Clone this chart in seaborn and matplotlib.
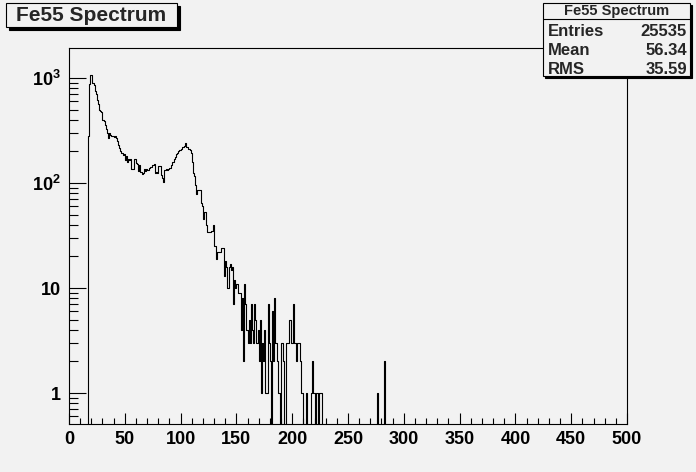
import numpy as np
import pandas as pd
import matplotlib
matplotlib.use('Agg')
import matplotlib.pyplot as plt
from matplotlib.patches import Rectangle
from matplotlib.lines import Line2D
from matplotlib.ticker import MultipleLocator, LogLocator, NullFormatter
import seaborn as sns

# --- data ---
title = 'Fe55 Spectrum'
stat_names = ['Entries', 'Mean', 'RMS']
stat_values = ['25535', '56.34', '35.59']

n_bins = 500
x_min, x_max = 0, 500
first_bin = 17
main_counts = [
    280, 870, 1060, 1060, 900, 860, 760, 700, 620, 560,   # 17-26
    500, 480, 470, 400, 390, 355, 330, 300, 270, 300,     # 27-36
    285, 283, 280, 275, 283, 270, 250, 230, 215, 200,     # 37-46
    195, 185, 188, 165, 180, 160, 168, 165, 170, 137,     # 47-56
    137, 170, 168, 155, 152, 130, 150, 128, 122, 125,     # 57-66
    135, 130, 135, 133, 134, 140, 142, 150, 150, 152,     # 67-76
    125, 128, 125, 144, 144, 120, 112, 103, 134, 133,     # 77-86
    136, 134, 135, 140, 150, 157, 160, 168, 175, 190,     # 87-96
    192, 200, 205, 210, 218, 220, 225, 240, 222, 218,     # 97-106
    210, 205, 195, 157, 125, 116, 96, 78, 86, 86,         # 107-116
    86, 65, 60, 45, 53, 53, 40, 34, 34, 34,               # 117-126
    35, 35, 40, 25, 25, 19, 22, 22, 22, 24,               # 127-136
    24, 24, 13, 18, 16, 10, 16, 17, 15, 16,               # 137-146
    7, 12, 10, 11, 9, 9, 9, 4, 8, 2,                      # 147-156
    11, 7, 4, 3, 5, 3, 7, 4, 3, 7,                        # 157-166
    5, 3, 4, 2, 5, 1,                                     # 167-172
    3, 2, 4, 1, 1, 7, 3, 2, 0, 6,                         # 173-182
    2, 8, 3, 2, 1, 1, 0, 3, 3, 2,                         # 183-192
    0, 3, 3, 3, 5, 5, 3, 3, 7, 3,                         # 193-202
    2, 3, 3, 3, 2, 1, 1, 0, 0, 1,                         # 203-212
    0, 0, 0, 0, 1, 2, 1, 0, 1, 1,                         # 213-222
    0, 1, 1, 1,                                           # 223-226
]
tail_bins = [276, 282]
tail_counts = [1, 2]

x_ticks = [0, 50, 100, 150, 200, 250, 300, 350, 400, 450, 500]
y_ticks = [1, 10, 100, 1000]
y_labels = ['1', '10', r'$\mathbf{10^{2}}$', r'$\mathbf{10^{3}}$']

counts = np.zeros(n_bins)
counts[first_bin:first_bin + len(main_counts)] = main_counts
counts[tail_bins] = tail_counts
edges = np.linspace(x_min, x_max, n_bins + 1)
hist_df = pd.DataFrame({'adc': (edges[:-1] + edges[1:]) / 2, 'count': counts})

# --- style (ROOT look) ---
W, H = 696, 472
bg = '#f2f2f2'
sns.set_theme(style='ticks', rc={'axes.facecolor': bg, 'figure.facecolor': bg,
                                 'axes.edgecolor': 'black', 'axes.linewidth': 0.8})
plt.rcParams['font.family'] = ['Liberation Sans', 'DejaVu Sans']
plt.rcParams['font.weight'] = 'bold'
plt.rcParams['mathtext.fontset'] = 'custom'
plt.rcParams['mathtext.bf'] = 'Liberation Sans:bold'
plt.rcParams['mathtext.rm'] = 'Liberation Sans:bold'


def fx(px):
    return px / W


def fy(py):
    return 1 - py / H


fig = plt.figure(figsize=(W / 100, H / 100), dpi=100)
ax = fig.add_axes([fx(69), fy(424), fx(627) - fx(69), fy(48) - fy(424)])

sns.histplot(data=hist_df, x='adc', weights='count', bins=n_bins,
             binrange=(x_min, x_max), element='step', fill=False,
             color='black', linewidth=0.8, ax=ax)
ax.set_yscale('log')
ax.set_xlim(x_min, x_max)
ax.set_ylim(0.507, 1930)
ax.set_xlabel('')
ax.set_ylabel('')

ax.xaxis.set_minor_locator(MultipleLocator(10))
ax.set_xticks(x_ticks, labels=[str(t) for t in x_ticks])
ax.set_yticks(y_ticks, labels=y_labels)
ax.yaxis.set_minor_locator(LogLocator(base=10, subs=np.arange(2, 10)))
ax.yaxis.set_minor_formatter(NullFormatter())

ax.tick_params(axis='both', which='both', direction='in', width=0.8,
               top=False, right=False, labelsize=13, colors='black')
ax.tick_params(axis='x', which='major', length=8, pad=5)
ax.tick_params(axis='x', which='minor', length=4)
ax.tick_params(axis='y', which='major', length=12.2, pad=6)
ax.tick_params(axis='y', which='minor', length=6.5)
for lab in ax.get_xticklabels() + ax.get_yticklabels():
    lab.set_fontweight('bold')


def shadow_box(x0, y0, x1, y1, off):
    fig.add_artist(Rectangle((fx(x0 + off), fy(y1 + off)), fx(x1) - fx(x0), fy(y0) - fy(y1),
                             transform=fig.transFigure, facecolor='black', edgecolor='black',
                             linewidth=0.8, zorder=5))
    fig.add_artist(Rectangle((fx(x0), fy(y1)), fx(x1) - fx(x0), fy(y0) - fy(y1),
                             transform=fig.transFigure, facecolor=bg, edgecolor='black',
                             linewidth=0.8, zorder=6))


# title box
shadow_box(6, 3, 177, 27, 2.5)
fig.text(fx(91.5), fy(15.5), title, ha='center', va='center', fontsize=15,
         fontweight='bold', zorder=7)

# stats box
shadow_box(543, 3, 690, 76, 2)
fig.add_artist(Line2D([fx(543), fx(690)], [fy(18.5), fy(18.5)], transform=fig.transFigure,
                      color='black', linewidth=0.8, zorder=7))
fig.text(fx(616.5), fy(11), title, ha='center', va='center', fontsize=10.5,
         fontweight='bold', zorder=7)
for i, (name, val) in enumerate(zip(stat_names, stat_values)):
    yy = fy(32 + 18.5 * i)
    fig.text(fx(548), yy, name, ha='left', va='center', fontsize=12,
             fontweight='bold', zorder=7)
    fig.text(fx(687), yy, val, ha='right', va='center', fontsize=12,
             fontweight='bold', zorder=7)

fig.savefig('out.png', dpi=100, facecolor=bg)
